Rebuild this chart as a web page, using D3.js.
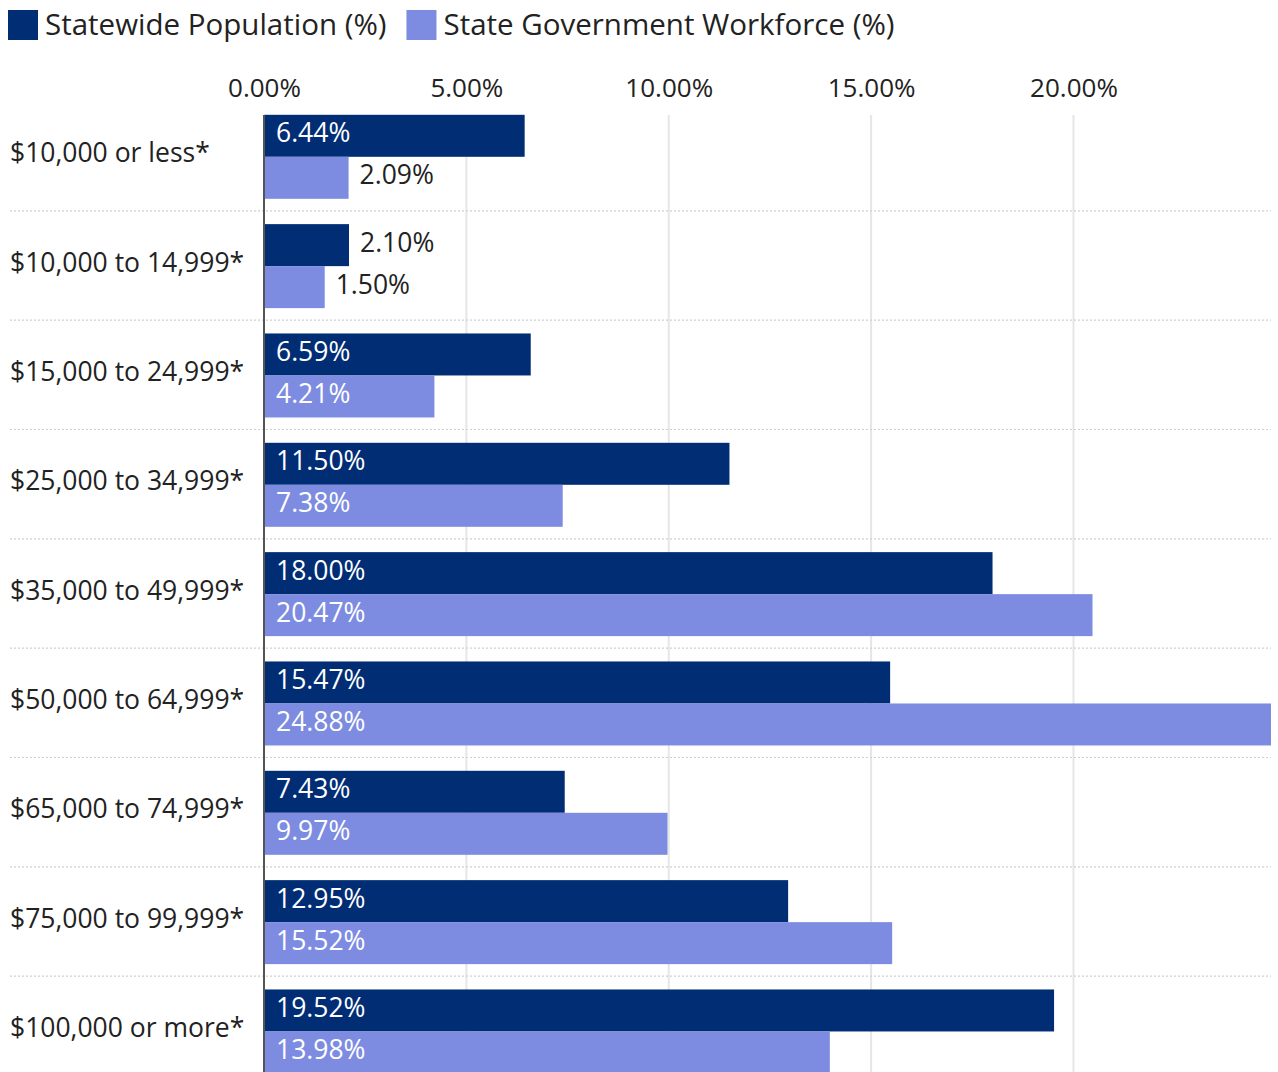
<!DOCTYPE html>
<html>
<head>
<meta charset="utf-8">
<script src="https://cdn.jsdelivr.net/npm/d3@7"></script>
<style>
  html, body { margin: 0; padding: 0; background: #fff; }
  svg { display: block; font-family: "Open Sans", Lato, sans-serif; }
</style>
</head>
<body>
<svg id="chart" width="1278" height="1072"></svg>
<script>
// Income brackets (rows)
const categories = [
  "$10,000 or less*",
  "$10,000 to 14,999*",
  "$15,000 to 24,999*",
  "$25,000 to 34,999*",
  "$35,000 to 49,999*",
  "$50,000 to 64,999*",
  "$65,000 to 74,999*",
  "$75,000 to 99,999*",
  "$100,000 or more*"
];
// Share of each bracket, percent
const statewidePopulation = [6.44, 2.10, 6.59, 11.50, 18.00, 15.47, 7.43, 12.95, 19.52];
const stateWorkforce      = [2.09, 1.50, 4.21, 7.38, 20.47, 24.88, 9.97, 15.52, 13.98];
const seriesNames = ["Statewide Population (%)", "State Government Workforce (%)"];
const tickValues = [0, 5, 10, 15, 20];

const colors = ["#002d74", "#7d8ce0"];

const svg = d3.select("#chart");
const W = 1278, H = 1072;
const x0 = 264;
const x = d3.scaleLinear().domain([0, 24.88]).range([x0, 1271]);

const y = d3.scaleBand().domain(categories).range([102, 1086]).padding(0);
const inner = d3.scaleBand().domain(seriesNames).range([12.8, 96.8]).padding(0);

const rows = categories.map((c, i) => ({
  cat: c,
  vals: [statewidePopulation[i], stateWorkforce[i]]
}));

// Vertical gridlines
svg.append("g").selectAll("line")
  .data(tickValues.filter(v => v > 0))
  .join("line")
  .attr("x1", d => x(d)).attr("x2", d => x(d))
  .attr("y1", 115).attr("y2", H)
  .attr("stroke", "#e6e6e6").attr("stroke-width", 2);

// Dotted row separators
svg.append("g").selectAll("line")
  .data(categories.slice(1))
  .join("line")
  .attr("x1", 10).attr("x2", 1271)
  .attr("y1", d => y(d) - 0.5).attr("y2", d => y(d) - 0.5)
  .attr("stroke", "#cfcfcf").attr("stroke-width", 1.2)
  .attr("stroke-dasharray", "2,2");

// Top axis tick labels
const xAxis = d3.axisTop(x).tickValues(tickValues)
  .tickFormat(d => d3.format(".2f")(d) + "%").tickSize(0).tickPadding(0);
const axG = svg.append("g").attr("transform", "translate(0,97)").call(xAxis);
axG.select(".domain").remove();
axG.selectAll("text")
  .attr("font-family", "'Open Sans', sans-serif")
  .attr("font-size", 26).attr("fill", "#222").attr("dy", 0);

// Bars
const groups = svg.append("g").selectAll("g")
  .data(rows).join("g")
  .attr("transform", d => `translate(0,${y(d.cat)})`);

groups.selectAll("rect")
  .data(d => d.vals.map((v, k) => ({ v, k })))
  .join("rect")
  .attr("x", x0)
  .attr("y", d => inner(seriesNames[d.k]))
  .attr("width", d => x(d.v) - x0)
  .attr("height", inner.bandwidth())
  .attr("fill", d => colors[d.k]);

// Value labels: inside when they fit, otherwise just past the bar end
const labelSize = 26.5;
groups.selectAll("text.val")
  .data(d => d.vals.map((v, k) => ({ v, k })))
  .join("text")
  .attr("class", "val")
  .attr("font-size", labelSize)
  .attr("y", d => inner(seriesNames[d.k]) + inner.bandwidth() / 2 - 3)
  .attr("dy", "0.36em")
  .text(d => d3.format(".2f")(d.v) + "%")
  .each(function (d) {
    const t = d3.select(this);
    const w = this.getComputedTextLength();
    const barW = x(d.v) - x0;
    if (w + 20 <= barW) {
      t.attr("x", x0 + 12).attr("fill", "#fff");
    } else {
      t.attr("x", x(d.v) + 11).attr("fill", "#222");
    }
  });

// Category labels
svg.append("g").selectAll("text")
  .data(categories).join("text")
  .attr("x", 10)
  .attr("y", d => y(d) + 12.8 + 42 - 4)
  .attr("dy", "0.36em")
  .attr("font-size", 26.5)
  .attr("fill", "#222")
  .text(d => d);

// Baseline axis at zero
svg.append("line")
  .attr("x1", x0).attr("x2", x0)
  .attr("y1", 115).attr("y2", H)
  .attr("stroke", "#555").attr("stroke-width", 2);

// Legend
const legend = svg.append("g");
let lx = 8;
seriesNames.forEach((name, k) => {
  legend.append("rect").attr("x", lx).attr("y", 10).attr("width", 30).attr("height", 30)
    .attr("fill", colors[k]);
  const t = legend.append("text").attr("x", lx + 37).attr("y", 24).attr("dy", "0.36em")
    .attr("font-size", 29.5).attr("fill", "#222").text(name);
  lx += 37 + t.node().getComputedTextLength() + 20;
});
</script>
</body>
</html>
